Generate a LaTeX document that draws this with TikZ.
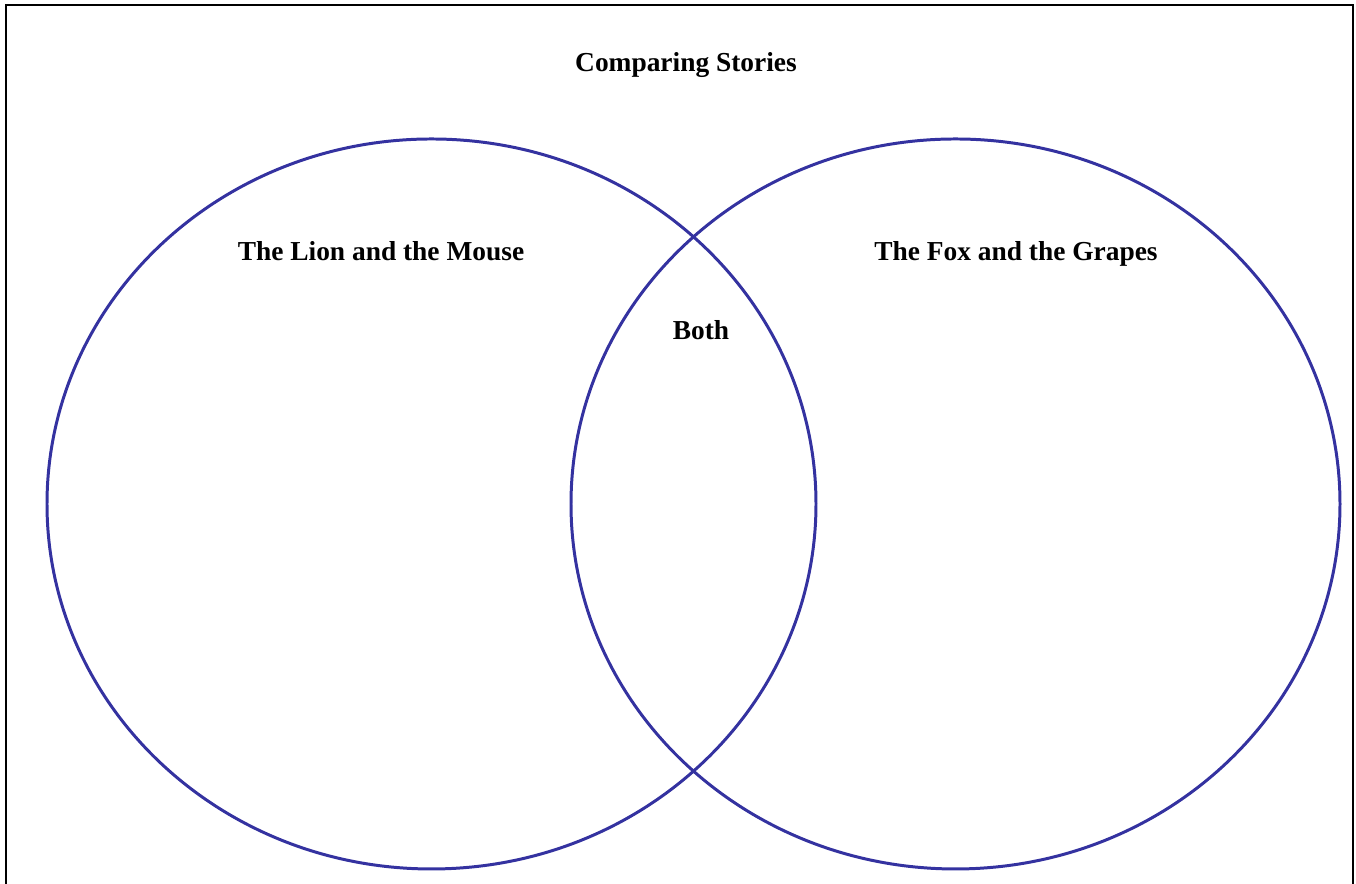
\documentclass[tikz,border=0pt]{standalone}
\usepackage{fontspec}
\setmainfont{Liberation Serif}
\usetikzlibrary{shapes.geometric}
\definecolor{vennblue}{RGB}{52,50,160}

\begin{document}
\begin{tikzpicture}[
    lbl/.style={font=\fontsize{15.6}{18}\selectfont\bfseries, inner sep=0pt, anchor=base},
    ring/.style={draw=vennblue, line width=1.7pt, ellipse, inner sep=0pt,
                 minimum width=15.38cm, minimum height=14.6cm}]
  \useasboundingbox (0,0) rectangle (27.12,17.68);
  % frame, open at the bottom
  \draw[line width=1.1pt] (0.12,-0.1) -- (0.12,17.58) -- (27.06,17.58) -- (27.06,-0.1);
  \node[ring] (L) at (8.63,7.6) {};
  \node[ring] (R) at (19.11,7.6) {};
  \node[lbl] (title) at (13.72,16.24) {Comparing Stories};
  \node[lbl] (lion) at (7.62,12.46) {The Lion and the Mouse};
  \node[lbl] (fox) at (20.32,12.46) {The Fox and the Grapes};
  \node[lbl] (both) at (14.02,10.88) {Both};
\end{tikzpicture}
\end{document}
